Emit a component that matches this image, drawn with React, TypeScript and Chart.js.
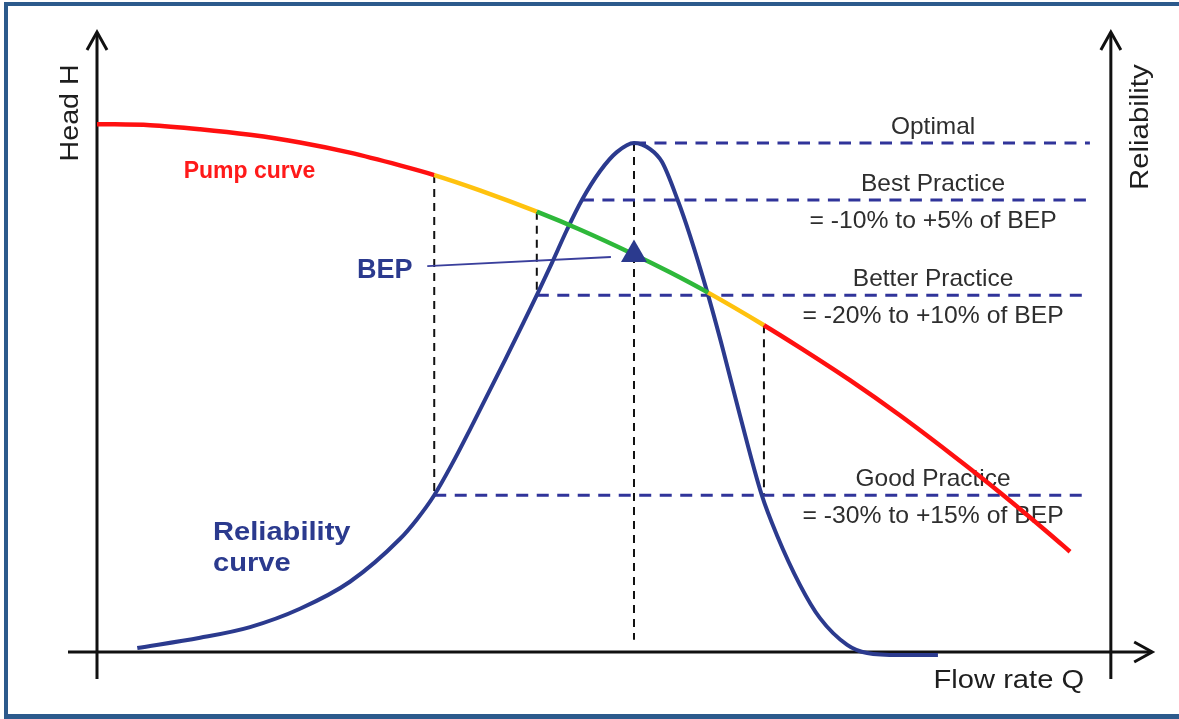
import React, { useEffect, useRef } from 'react';
import { Chart, registerables } from 'chart.js';

Chart.register(...registerables);

// ---------- data (Q in % of BEP flow, H / reliability in relative units) ----------
const Q_PUMP = [0, 9.9, 19.2, 28.5, 37.8, 47.1, 56.4, 62.8, 71.3, 81.9, 89.9, 100, 106.7, 113.8, 124.2, 130.9, 140.2, 149.5, 158.8, 168.2, 177.5, 181.2];
const H_PUMP = [103.7, 103.5, 102.7, 101.6, 100.1, 98.1, 95.6, 93.7, 90.7, 86.5, 83.0, 78.1, 74.6, 70.6, 64.2, 59.8, 53.4, 46.5, 39.1, 31.3, 23.1, 19.7];

const Q_REL = [7.5, 19.2, 28.5, 37.8, 47.1, 56.4, 59.6, 62.8, 66.1, 69.5, 76.0, 81.9, 84.7, 87.5, 90.3, 93.7, 96.8, 100, 103.0, 105.2, 108.2, 110.4, 113.8, 116.6, 119.7, 123.8, 126.6, 130.9, 134.6, 139.7, 143.4, 149.5, 156.6];
const R_REL = [0.8, 2.8, 4.9, 8.5, 13.8, 22.2, 26.1, 30.8, 36.9, 43.8, 57.4, 70.1, 76.4, 82.9, 88.8, 94.5, 98.2, 100, 98.8, 96.3, 88.6, 81.9, 70.1, 59.3, 46.6, 30.8, 23.0, 13.2, 6.7, 1.4, -0.2, -0.6, -0.6];

const ZONE_EDGES = [62.8, 81.9, 113.8, 124.2];
const ZONE_COLORS = ['#ff1010', '#ffc20e', '#2eb83a', '#ffc20e', '#ff1010'];

const LEVEL_NAMES = ['Optimal', 'Best Practice', 'Better Practice', 'Good Practice'];
const LEVEL_RANGES = ['', '= -10% to +5% of BEP', '= -20% to +10% of BEP', '= -30% to +15% of BEP'];
const LEVEL_R = [100, 88.8, 70.1, 30.8];
const LEVEL_Q_START = [100, 90.3, 81.9, 62.8];
const LEVEL_Q_END = 184.9;
const LEVEL_LABEL_Q = 155.7;

const GUIDE_Q = [62.8, 81.9, 100, 124.2];
const GUIDE_FROM = [30.8, 70.1, 2.4, 30.8];
const GUIDE_TO = [93.7, 86.5, 100, 64.2];

const BEP_Q = 100;
const BEP_H = 78.1;
const BEP_POINTER_Q = [61.5, 95.7];
const BEP_POINTER_H = [75.8, 77.6];

const X_MAX = 195.16;
const Y_MAX = 121.8;

const FONT = "Arial, 'Liberation Sans', Helvetica, sans-serif";
const NAVY = '#2b3a8e';
const DASH_BLUE = '#30349a';
const INK = '#111111';

function zoneColor(q: number): string {
  let i = 0;
  while (i < ZONE_EDGES.length && q > ZONE_EDGES[i]) i++;
  return ZONE_COLORS[i];
}

function txt(ctx: CanvasRenderingContext2D, s: string, x: number, y: number, font: string, color: string, align: CanvasTextAlign, sx = 1, rot = 0) {
  ctx.save();
  ctx.translate(x, y);
  if (rot) ctx.rotate(rot);
  ctx.scale(sx, 1);
  ctx.font = font;
  ctx.fillStyle = color;
  ctx.textAlign = align;
  ctx.textBaseline = 'alphabetic';
  ctx.fillText(s, 0, 0);
  ctx.restore();
}

const decor = {
  id: 'decor',
  beforeDatasetsDraw(chart: any) {
    const ctx: CanvasRenderingContext2D = chart.ctx;
    const xs = chart.scales.x;
    const ys = chart.scales.y;
    const X = (v: number) => xs.getPixelForValue(v);
    const Y = (v: number) => ys.getPixelForValue(v);

    // frame
    ctx.save();
    ctx.fillStyle = '#2c5a8c';
    ctx.fillRect(4, 2, 1175, 4);
    ctx.fillRect(4, 2, 4, 717);
    ctx.fillRect(4, 714, 1175, 5);
    ctx.restore();

    // axes
    ctx.save();
    ctx.strokeStyle = INK;
    ctx.lineWidth = 3;
    ctx.lineCap = 'butt';
    const x0 = X(0), y0 = Y(0), xr = X(188.8);
    const top = Y(Y_MAX), bottom = Y(-5.3);
    const left = X(-5.4), right = X(196.5);
    ctx.beginPath();
    ctx.moveTo(x0, bottom); ctx.lineTo(x0, top + 1);
    ctx.moveTo(xr, bottom); ctx.lineTo(xr, top + 1);
    ctx.moveTo(left, y0); ctx.lineTo(right - 1, y0);
    ctx.stroke();
    ctx.lineJoin = 'miter';
    ctx.beginPath();
    for (const ax of [x0, xr]) {
      ctx.moveTo(ax - 10, top + 18); ctx.lineTo(ax, top); ctx.lineTo(ax + 10, top + 18);
    }
    ctx.moveTo(right - 18, y0 - 10); ctx.lineTo(right, y0); ctx.lineTo(right - 18, y0 + 10);
    ctx.stroke();
    ctx.restore();

    // axis titles
    txt(ctx, 'Head H', X(-3.54), Y(105.9), `26px ${FONT}`, '#1e1e1e', 'center', 1.1, -Math.PI / 2);
    txt(ctx, 'Reliability', X(195.7), Y(103.1), `26px ${FONT}`, '#1e1e1e', 'center', 1.13, -Math.PI / 2);
    txt(ctx, 'Flow rate Q', X(169.8), Y(-7.1), `26px ${FONT}`, '#1e1e1e', 'center', 1.12);

    // level labels
    LEVEL_NAMES.forEach((name, i) => {
      const ly = Y(LEVEL_R[i]);
      txt(ctx, name, X(LEVEL_LABEL_Q), ly - 9, `24px ${FONT}`, '#2e2e2e', 'center', 1.02);
      if (LEVEL_RANGES[i]) txt(ctx, LEVEL_RANGES[i], X(LEVEL_LABEL_Q), ly + 28, `24px ${FONT}`, '#2e2e2e', 'center', 1.03);
    });

    // curve labels
    txt(ctx, 'Pump curve', X(28.4), Y(93.1), `bold 23px ${FONT}`, '#ff1a1a', 'center', 1.0);
    txt(ctx, 'BEP', X(53.6), Y(73.5), `bold 27px ${FONT}`, NAVY, 'center', 1.0);
    txt(ctx, 'Reliability', X(21.6), Y(22.0), `bold 26px ${FONT}`, NAVY, 'left', 1.12);
    txt(ctx, 'curve', X(21.6), Y(15.9), `bold 26px ${FONT}`, NAVY, 'left', 1.12);
  },
};

export default function App() {
  const ref = useRef<HTMLCanvasElement>(null);

  useEffect(() => {
    document.body.style.margin = '0';
    const canvas = ref.current!;
    const pts = (xs: number[], ys: number[]) => xs.map((x, i) => ({ x, y: ys[i] }));

    const datasets: any[] = [];
    datasets.push({
      label: 'BEP',
      data: [{ x: BEP_Q, y: BEP_H }],
      showLine: false,
      pointStyle: 'triangle',
      pointRadius: 15,
      pointHoverRadius: 15,
      backgroundColor: NAVY,
      borderColor: NAVY,
      borderWidth: 0,
      clip: false,
      order: 0,
    });
    datasets.push({
      label: 'Pump curve',
      data: pts(Q_PUMP, H_PUMP),
      borderColor: ZONE_COLORS[0],
      borderWidth: 4.5,
      pointRadius: 0,
      cubicInterpolationMode: 'monotone',
      segment: {
        borderColor: (c: any) => zoneColor((c.p0.parsed.x + c.p1.parsed.x) / 2),
      },
      clip: false,
      order: 1,
    });
    datasets.push({
      label: 'Reliability curve',
      data: pts(Q_REL, R_REL),
      borderColor: NAVY,
      borderWidth: 4,
      pointRadius: 0,
      cubicInterpolationMode: 'monotone',
      clip: false,
      order: 2,
    });
    datasets.push({
      label: 'BEP pointer',
      data: pts(BEP_POINTER_Q, BEP_POINTER_H),
      borderColor: '#3a3f9c',
      borderWidth: 1.8,
      pointRadius: 0,
      order: 3,
    });
    LEVEL_NAMES.forEach((name, i) => {
      datasets.push({
        label: name,
        data: [{ x: LEVEL_Q_START[i], y: LEVEL_R[i] }, { x: LEVEL_Q_END, y: LEVEL_R[i] }],
        borderColor: DASH_BLUE,
        borderWidth: 3,
        borderDash: [12, 8.5],
        pointRadius: 0,
        order: 4 + i,
      });
    });
    GUIDE_Q.forEach((q, i) => {
      datasets.push({
        label: 'guide ' + i,
        data: [{ x: q, y: GUIDE_TO[i] }, { x: q, y: GUIDE_FROM[i] }],
        borderColor: INK,
        borderWidth: 2,
        borderDash: [8, 6],
        pointRadius: 0,
        order: 10 + i,
      });
    });

    const chart = new Chart(canvas, {
      type: 'line',
      data: { datasets },
      options: {
        responsive: false,
        animation: false,
        devicePixelRatio: 1,
        layout: { padding: { left: 97, right: 34, top: 32, bottom: 67 } },
        scales: {
          x: { type: 'linear', min: 0, max: X_MAX, display: false },
          y: { type: 'linear', min: 0, max: Y_MAX, display: false },
        },
        plugins: {
          legend: { display: false },
          tooltip: { enabled: false },
        },
        events: [],
      },
      plugins: [decor],
    } as any);

    return () => chart.destroy();
  }, []);

  return (
    <div style={{ position: 'absolute', left: 0, top: 0, width: 1179, height: 719, background: '#ffffff' }}>
      <canvas ref={ref} width={1179} height={719} style={{ display: 'block', width: 1179, height: 719 }} />
    </div>
  );
}
